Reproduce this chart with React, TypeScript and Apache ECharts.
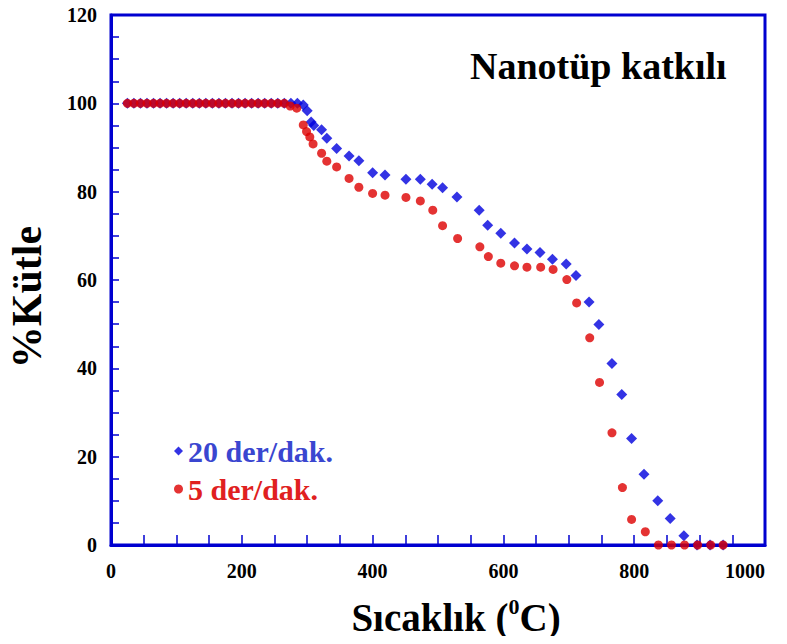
import React, { useEffect, useRef } from "react";
import * as echarts from "echarts";

const blueTemp = [25, 35, 45, 55, 65, 75, 85, 95, 105, 115, 125, 135, 145, 155, 165, 175, 185, 195, 205, 215, 225, 235, 245, 255, 265, 275, 285, 294, 300, 306, 310, 322, 330, 345, 364, 379, 400, 419, 451, 473, 491, 507, 529, 563, 576, 596, 617, 636, 656, 675, 696, 711, 731, 746, 766, 781, 796, 815, 836, 855, 876, 896, 916, 936];
const blueMass = [100, 100, 100, 100, 100, 100, 100, 100, 100, 100, 100, 100, 100, 100, 100, 100, 100, 100, 100, 100, 100, 100, 100, 100, 100, 100, 100, 99.6, 98.3, 95.8, 95.0, 94.0, 92.1, 89.8, 88.1, 87.0, 84.3, 83.8, 82.8, 82.8, 81.7, 80.9, 78.8, 75.8, 72.4, 70.6, 68.4, 67.0, 66.2, 64.7, 63.6, 61.0, 55.0, 49.9, 41.1, 34.1, 24.1, 16.0, 10.0, 6.0, 2.1, 0, 0, 0];

const redTemp = [25, 35, 45, 55, 65, 75, 85, 95, 105, 115, 125, 135, 145, 155, 165, 175, 185, 195, 205, 215, 225, 235, 245, 255, 265, 274, 284, 294, 299, 304, 309, 322, 330, 345, 364, 379, 400, 419, 451, 473, 492, 507, 530, 564, 577, 596, 617, 636, 657, 676, 697, 712, 732, 747, 766, 782, 796, 817, 837, 857, 877, 897, 917, 936];
const redMass = [100, 100, 100, 100, 100, 100, 100, 100, 100, 100, 100, 100, 100, 100, 100, 100, 100, 100, 100, 100, 100, 100, 100, 100, 100, 99.4, 98.9, 95.1, 93.6, 92.4, 90.8, 88.7, 86.9, 85.6, 83.0, 81.0, 79.6, 79.2, 78.7, 77.9, 75.8, 72.3, 69.4, 67.5, 65.3, 63.8, 63.2, 62.9, 62.9, 62.4, 60.1, 54.8, 46.9, 36.8, 25.4, 13.0, 5.8, 3.0, 0, 0, 0, 0, 0, 0];

const seriesNames = ["20 der/dak.", "5 der/dak."];
const xTickMin = 0;
const xTickMax = 1000;
const yTickMin = 0;
const yTickMax = 120;

const AXIS_BLUE = "#0000d0";
const FONT = "'Liberation Serif', 'Times New Roman', serif";

export default function App() {
  const ref = useRef<HTMLDivElement>(null);
  useEffect(() => {
    if (!ref.current) return;
    const chart = echarts.init(ref.current, undefined, { renderer: "svg" });
    const zip = (xs: number[], ys: number[]) => xs.map((x, i) => [x, ys[i]]);
    chart.setOption({
      animation: false,
      backgroundColor: "#ffffff",
      grid: {
        left: 111,
        right: 22,
        top: 15,
        bottom: 99,
        containLabel: false,
        outerBoundsMode: "none",
        show: true,
        borderColor: AXIS_BLUE,
        borderWidth: 3,
      },
      title: {
        text: "Nanotüp katkılı",
        left: 465,
        top: 42,
        textStyle: { fontFamily: FONT, fontWeight: "bold", fontSize: 38, color: "#000" },
      },
      legend: {
        orient: "vertical",
        left: 169,
        top: 431,
        itemWidth: 9,
        itemHeight: 9,
        itemGap: 8,
        data: [
          { name: seriesNames[0], icon: "diamond", textStyle: { color: "#3a46d0" } },
          { name: seriesNames[1], icon: "circle", textStyle: { color: "#e02020" } },
        ],
        textStyle: { fontFamily: FONT, fontWeight: "bold", fontSize: 30, lineHeight: 29 },
      },
      xAxis: {
        type: "value",
        min: xTickMin,
        max: xTickMax,
        interval: 200,
        name: "Sıcaklık ({sup|0}C)",
        nameLocation: "middle",
        nameGap: 50,
        nameTextStyle: {
          fontFamily: FONT,
          fontWeight: "bold",
          fontSize: 39,
          color: "#000",
          padding: [0, 0, 0, 36],
          rich: {
            sup: { fontFamily: FONT, fontWeight: "bold", fontSize: 22, verticalAlign: "top", padding: [0, 0, 22, 0], color: "#000" },
          },
        },
        axisLine: { show: true, lineStyle: { color: AXIS_BLUE, width: 3 } },
        axisTick: { show: true, inside: true, length: 10, lineStyle: { color: AXIS_BLUE, width: 1.5 } },
        minorTick: { show: true, splitNumber: 4, length: 10, lineStyle: { color: AXIS_BLUE, width: 1.5 } },
        splitLine: { show: false },
        axisLabel: {
          fontFamily: FONT,
          fontWeight: "bold",
          fontSize: 20,
          color: "#000",
          margin: 16,
          alignMaxLabel: "right",
          formatter: (v: number) => String(v),
        },
      },
      yAxis: {
        type: "value",
        min: yTickMin,
        max: yTickMax,
        interval: 20,
        name: "%Kütle",
        nameLocation: "middle",
        nameGap: 63,
        nameRotate: 90,
        nameTextStyle: { fontFamily: FONT, fontWeight: "bold", fontSize: 42, color: "#000", padding: [0, 34, 0, 0] },
        axisLine: { show: true, lineStyle: { color: AXIS_BLUE, width: 3 } },
        axisTick: { show: true, inside: true, length: 8, lineStyle: { color: AXIS_BLUE, width: 1.5 } },
        minorTick: { show: true, splitNumber: 4, length: 8, lineStyle: { color: AXIS_BLUE, width: 1.5 } },
        splitLine: { show: false },
        axisLabel: {
          fontFamily: FONT,
          fontWeight: "bold",
          fontSize: 20,
          color: "#000",
          margin: 14,
          formatter: (v: number) => String(v),
        },
      },
      series: [
        {
          name: seriesNames[0],
          type: "scatter",
          symbol: "diamond",
          symbolSize: 11,
          itemStyle: { color: "#0000dd" },
          data: zip(blueTemp, blueMass),
          z: 2,
        },
        {
          name: seriesNames[1],
          type: "scatter",
          symbol: "circle",
          symbolSize: 9,
          itemStyle: { color: "#dd0000" },
          data: zip(redTemp, redMass),
          z: 3,
        },
      ],
    });
    return () => chart.dispose();
  }, []);
  return <div ref={ref} style={{ width: 787, height: 644, margin: -8 }} />;
}
